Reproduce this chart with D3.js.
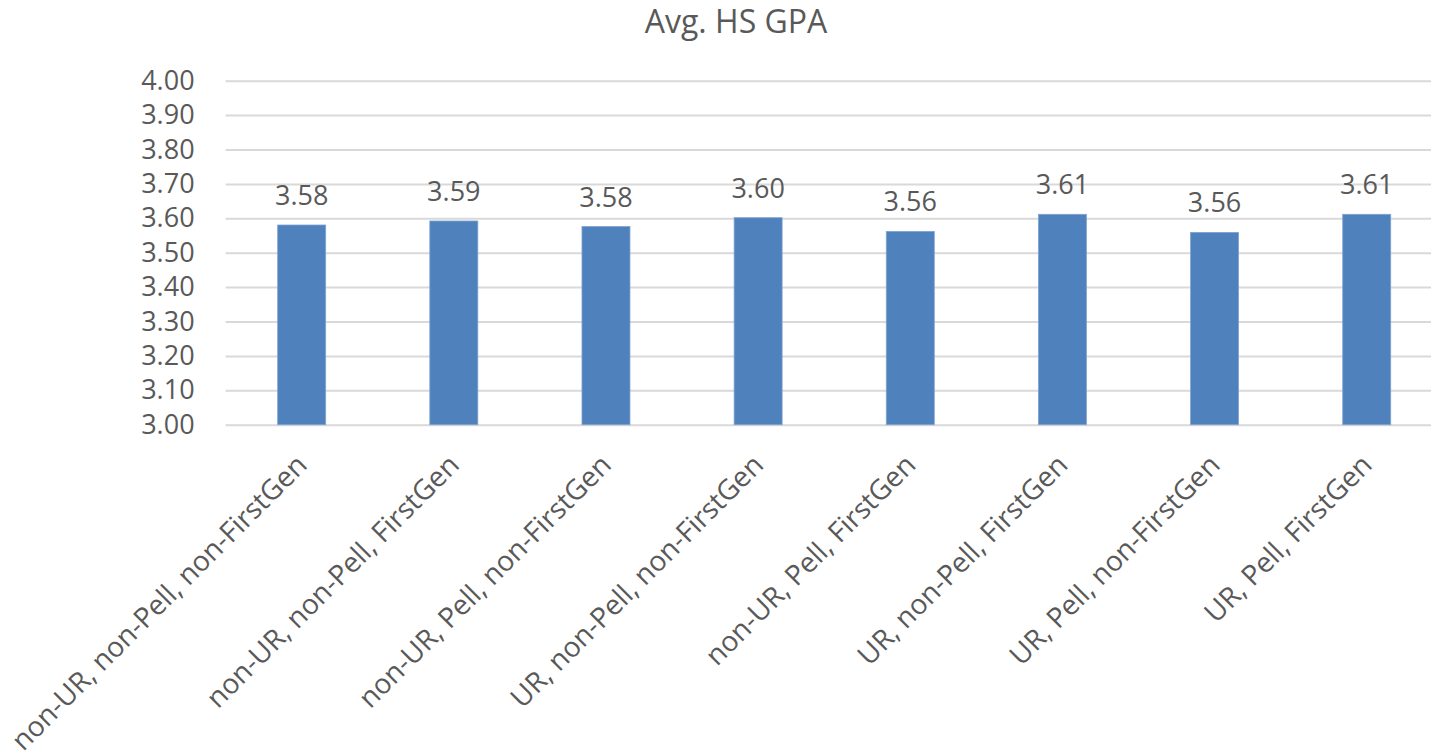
<!DOCTYPE html>
<html>
<head>
<meta charset="utf-8">
<script src="https://cdn.jsdelivr.net/npm/d3@7"></script>
<style>
  html, body { margin: 0; padding: 0; background: #ffffff; }
  svg { display: block; font-family: "Open Sans", "Noto Sans", sans-serif; }
</style>
</head>
<body>
<svg id="chart" width="1431" height="752"></svg>
<script>
const title = "Avg. HS GPA";
const categories = [
  "non-UR, non-Pell, non-FirstGen",
  "non-UR, non-Pell, FirstGen",
  "non-UR, Pell, non-FirstGen",
  "UR, non-Pell, non-FirstGen",
  "non-UR, Pell, FirstGen",
  "UR, non-Pell, FirstGen",
  "UR, Pell, non-FirstGen",
  "UR, Pell, FirstGen"
];
const values = [3.5805, 3.5922, 3.5760, 3.6017, 3.5620, 3.6116, 3.5590, 3.6116];
const yTicks = [3.0, 3.1, 3.2, 3.3, 3.4, 3.5, 3.6, 3.7, 3.8, 3.9, 4.0];

(function () {
const svg = d3.select("#chart");
const textColor = "#595959";
const gridColor = "#D9D9D9";
const barColor = "#4F81BD";

const plotLeft = 225.6, plotRight = 1442.8, plotTop = 80.7, plotBottom = 424.7;

const x = d3.scaleBand().domain(categories).range([plotLeft, plotRight])
  .paddingInner(0.6845).paddingOuter(0.6845 / 2);
const y = d3.scaleLinear().domain([3, 4]).range([plotBottom, plotTop]);

// Title
svg.append("text")
  .attr("x", 736).attr("y", 33)
  .attr("text-anchor", "middle")
  .attr("fill", textColor)
  .style("font-size", "32px")
  .text(title);

// Gridlines + y tick labels
const yAxisG = svg.append("g")
  .attr("transform", `translate(${plotLeft},0)`)
  .call(d3.axisLeft(y).tickValues(yTicks).tickSize(-(plotRight - plotLeft)).tickFormat(d3.format(".2f")).tickPadding(31));
yAxisG.select(".domain").remove();
yAxisG.selectAll(".tick line").attr("stroke", gridColor).attr("stroke-width", 2);
yAxisG.selectAll(".tick text")
  .attr("fill", textColor)
  .style("font-size", "27px")
  .style("font-family", "'Open Sans', sans-serif");

// Bars
svg.append("g").selectAll("rect")
  .data(values)
  .join("rect")
  .attr("x", (d, i) => x(categories[i]))
  .attr("width", x.bandwidth())
  .attr("y", d => y(d))
  .attr("height", d => y(3) - y(d))
  .attr("fill", barColor)
  .attr("stroke", "#7FA3D0")
  .attr("stroke-width", 0.8);

// Value labels
svg.append("g").selectAll("text")
  .data(values)
  .join("text")
  .attr("x", (d, i) => x(categories[i]) + x.bandwidth() / 2)
  .attr("y", d => y(d) - 20)
  .attr("text-anchor", "middle")
  .attr("fill", textColor)
  .style("font-size", "27px")
  .text(d => d3.format(".2f")(d));

// Category labels (rotated)
const xAxisG = svg.append("g")
  .attr("transform", `translate(0,${plotBottom})`)
  .call(d3.axisBottom(x).tickSize(0).tickPadding(0));
xAxisG.select(".domain").remove();
xAxisG.selectAll(".tick text")
  .attr("fill", textColor)
  .style("font-size", "28px")
  .style("font-family", "'Open Sans', sans-serif")
  .attr("text-anchor", "end")
  .attr("dy", "0")
  .attr("y", 0)
  .attr("transform", "translate(7,42) rotate(-45)");
})();
</script>
</body>
</html>
